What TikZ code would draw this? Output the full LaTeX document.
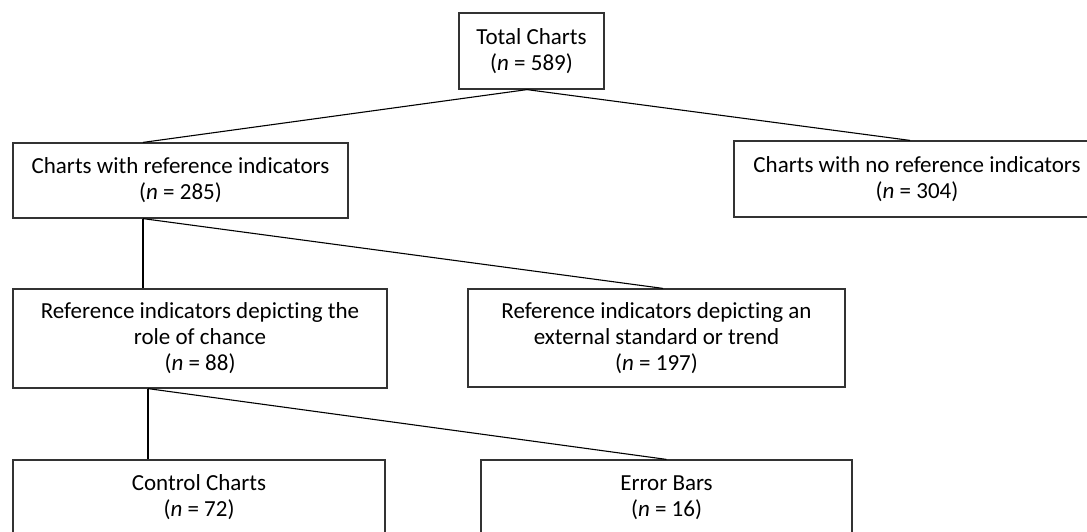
\documentclass[tikz,border=0pt]{standalone}
\usepackage{fontspec}
\setmainfont{Carlito}[Ligatures=NoCommon]
\begin{document}
\begin{tikzpicture}[x=1pt,y=-1pt,
  box/.style={draw=black!80, line width=1.2pt, rectangle, inner sep=0pt, align=center,
    font=\fontsize{23}{26}\selectfont},
  link/.style={draw=black, line width=1.1pt}]
\useasboundingbox (0,0) rectangle (1087,531);
\begin{scope}
\clip (0,0) rectangle (1087,531);
\node[box, minimum width=145pt, minimum height=76pt] (b1) at (531.5,51) {Total Charts\\(\textit{n} = 589)};
\node[box, minimum width=335pt, minimum height=75pt] (b2) at (180.5,180.5) {Charts with reference indicators\\(\textit{n} = 285)};
\node[box, minimum width=366pt, minimum height=76pt] (b3) at (917,179) {Charts with no reference indicators\\(\textit{n} = 304)};
\node[box, minimum width=374pt, minimum height=99pt] (b4) at (200,338.5) {Reference indicators depicting the\\role of chance\\(\textit{n} = 88)};
\node[box, minimum width=377pt, minimum height=98pt] (b5) at (656.5,338) {Reference indicators depicting an\\external standard or trend\\(\textit{n} = 197)};
\node[box, minimum width=372pt, minimum height=75pt] (b6) at (199,497.5) {Control Charts\\(\textit{n} = 72)};
\node[box, minimum width=371pt, minimum height=75pt] (b7) at (666.5,497.5) {Error Bars\\(\textit{n} = 16)};
\end{scope}
\draw[link] ([xshift=-4.5pt]b1.south) -- ([xshift=-37.5pt]b2.north);
\draw[link] ([xshift=-4.5pt]b1.south) -- ([xshift=-7pt]b3.north);
\draw[link] ([xshift=-37.5pt]b2.south) -- ([xshift=-57pt]b4.north);
\draw[link] ([xshift=-37.5pt]b2.south) -- ([xshift=6.5pt]b5.north);
\draw[link] ([xshift=-52pt]b4.south) -- ([xshift=-51pt]b6.north);
\draw[link] ([xshift=-52pt]b4.south) -- (b7.north);
\end{tikzpicture}
\end{document}
